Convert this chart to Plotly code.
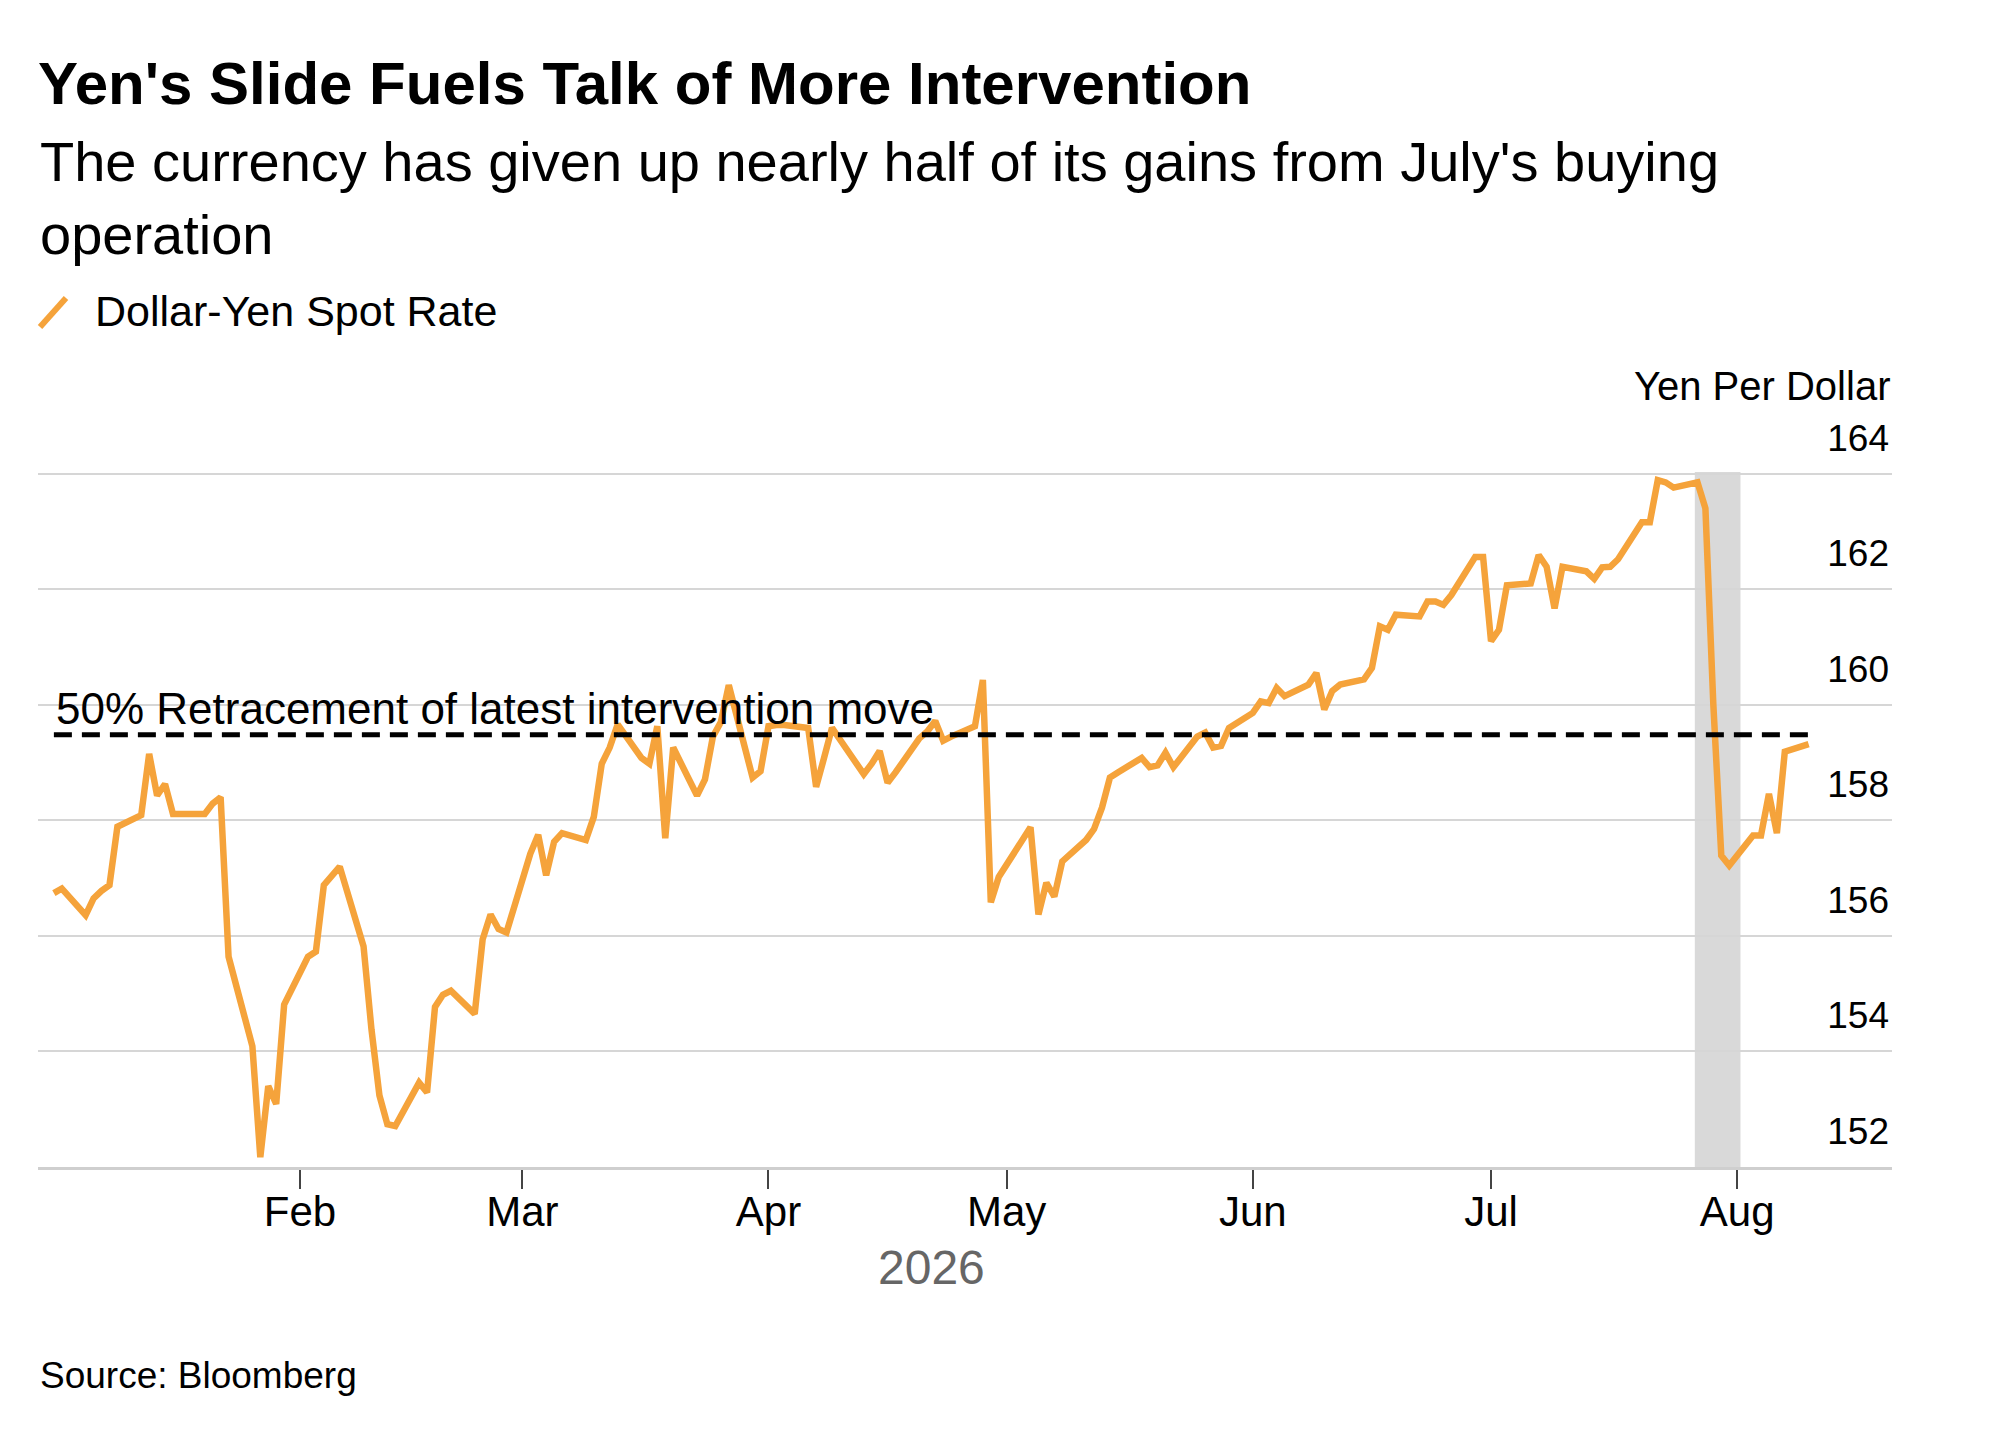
import pandas as pd
import plotly.graph_objects as go

# Dollar-yen spot rate, business-day closes, 2026
jan = [156.74, 156.82, 156.36, 156.65, 156.78, 156.88, 157.89, 158.09, 159.15, 158.43, 158.63,
       158.11, 158.11, 158.11, 158.29, 158.40, 155.64, 154.09, 152.17, 153.40, 153.09, 154.81]
feb = [155.64, 155.73, 156.88, 157.05, 157.20, 155.82, 154.38, 153.24, 152.74, 152.71,
       153.46, 153.29, 154.77, 154.98, 155.05, 154.65, 155.94, 156.37, 156.12, 156.06]
mar = [157.42, 157.75, 157.05, 157.63, 157.78, 157.66, 158.06, 158.98, 159.26, 159.66, 159.08,
       158.98, 159.63, 157.69, 159.26, 158.43, 158.71, 159.45, 159.70, 160.34, 158.74, 158.85]
apr = [159.63, 159.65, 159.65, 159.60, 158.58, 159.08, 159.60, 159.40, 158.80, 158.98, 159.20,
       158.65, 158.83, 159.42, 159.54, 159.72, 159.38, 159.45, 159.63, 160.43, 156.58, 157.02]
may = [157.23, 157.88, 156.37, 156.92, 156.68, 157.29, 157.66, 157.85, 158.22, 158.74, 158.83,
       159.08, 158.92, 158.95, 159.17, 158.92, 159.45, 159.52, 159.26, 159.29, 159.60]
jun = [159.86, 160.06, 160.03, 160.29, 160.15, 160.35, 160.55, 159.92, 160.24, 160.35, 160.44,
       160.64, 161.36, 161.30, 161.56, 161.53, 161.79, 161.79, 161.73, 161.90, 162.56, 162.56]
jul = [161.10, 161.30, 162.07, 162.10, 162.59, 162.39, 161.67, 162.39, 162.31, 162.18, 162.38, 162.39,
       162.52, 163.16, 163.16, 163.89, 163.85, 163.76, 163.85, 163.40, 160.00, 157.39, 157.22]
aug = [157.74, 157.74, 158.46, 157.78, 159.19, 159.32]

spot = jan + feb + mar + apr + may + jun + jul + aug
dates = pd.bdate_range("2026-01-01", periods=len(spot))

retracement = 159.48
intervention_start = "2026-07-26 16:00"
intervention_end = "2026-08-01 10:00"

month_ticks = ["2026-02-01", "2026-03-01", "2026-04-01", "2026-05-01",
               "2026-06-01", "2026-07-01", "2026-08-01"]
month_labels = ["Feb", "Mar", "Apr", "May", "Jun", "Jul", "Aug"]
y_ticks = [152, 154, 156, 158, 160, 162, 164]

FONT = "Liberation Sans, Arial, sans-serif"
ORANGE = "#F5A33B"

# page body has an 8px default margin, so the figure is drawn 8px smaller
W, H = 1992, 1421

fig = go.Figure()

# shaded intervention window
fig.add_vrect(x0=intervention_start, x1=intervention_end, fillcolor="#d9d9d9",
              opacity=1, line_width=0, layer="below")

fig.add_trace(go.Scatter(
    x=dates, y=spot, mode="lines", name="Dollar-Yen Spot Rate",
    line=dict(color=ORANGE, width=6.5), showlegend=False,
))
fig.add_trace(go.Scatter(
    x=[dates[0], dates[-1]], y=[retracement, retracement], mode="lines",
    line=dict(color="black", width=5, dash="18px,10px"), showlegend=False, hoverinfo="skip",
))

fig.update_layout(
    width=W, height=H,
    margin=dict(l=30, r=108, t=464, b=262),
    paper_bgcolor="white", plot_bgcolor="white",
    font=dict(family=FONT, color="black"),
    title=dict(text="Yen's Slide Fuels Talk of More Intervention",
               x=30 / W, xanchor="left", y=1 - 75 / H, yanchor="middle",
               font=dict(size=60, weight="bold", color="black")),
    xaxis=dict(type="date", range=["2025-12-30", "2026-08-20 12:00"],
               tickvals=month_ticks, ticktext=month_labels,
               ticks="outside", ticklen=19, tickwidth=2, tickcolor="#444",
               ticklabelstandoff=-13,
               showgrid=False, showline=True, linecolor="#cfcfcf", linewidth=3,
               zeroline=False, tickfont=dict(size=42, color="black")),
    yaxis=dict(side="right", range=[152, 164.03], tickvals=y_ticks,
               showgrid=True, gridcolor="#d6d6d6", gridwidth=2,
               ticklabelposition="inside", ticklabelshift=-36, ticklabeloverflow="allow",
               zeroline=False, showline=False, ticks="",
               tickfont=dict(size=37, color="black")),
)

fig.add_annotation(text="The currency has given up nearly half of its gains from July's buying<br>operation",
                   xref="paper", yref="paper", x=0, y=1.394, xanchor="left", yanchor="middle",
                   align="left", showarrow=False, font=dict(size=56))
# legend: slash icon plus label
fig.add_shape(type="line", xref="paper", yref="paper", x0=0.0011, y0=1.2086, x1=0.0151, y1=1.2504,
              line=dict(color=ORANGE, width=6))
fig.add_annotation(text="Dollar-Yen Spot Rate", xref="paper", yref="paper", x=0.0297, y=1.2317,
                   xanchor="left", yanchor="middle", showarrow=False, font=dict(size=43))
fig.add_annotation(text="Yen Per Dollar", xref="paper", yref="paper", x=1, y=1.1237,
                   xanchor="right", yanchor="middle", showarrow=False, font=dict(size=40))
fig.add_annotation(text="50% Retracement of latest intervention move", xref="x", yref="y",
                   x=dates[0], y=retracement, xanchor="left", yanchor="bottom",
                   showarrow=False, font=dict(size=44))
fig.add_annotation(text="2026", xref="paper", yref="paper", x=0.4817, y=-0.1439,
                   xanchor="center", yanchor="middle", showarrow=False,
                   font=dict(size=48, color="#666666"))
fig.add_annotation(text="Source: Bloomberg", xref="paper", yref="paper", x=0, y=-0.2993,
                   xanchor="left", yanchor="middle", showarrow=False, font=dict(size=37))

fig.write_html("out.html")
